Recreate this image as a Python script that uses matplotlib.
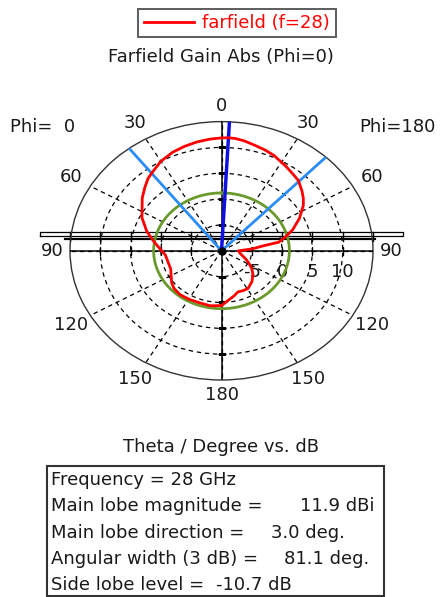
import matplotlib
matplotlib.use("Agg")
import matplotlib.pyplot as plt
import numpy as np
from matplotlib.patches import Rectangle
from matplotlib.lines import Line2D

# DATA
# farfield gain (dBi) vs theta (deg), clockwise from the top, Phi=0 on the left
theta_deg = [-180, -170, -160, -150, -141, -133, -127, -120, -113, -103, -95, -89,
             -81, -73, -64, -52, -46, -41, -37, -30, -23, -17, -11, -5, 0, 3, 6,
             10, 15, 20, 25, 33, 38, 43, 49, 53, 57, 64, 71, 76, 80, 82, 86, 88,
             90, 99, 110, 117, 124, 132, 140, 149, 155, 161, 167, 173, 180]
gain_db = [0.6, 0.8, 0.7, 0.8, 0.9, 0.7, 0.3, -0.4, -0.9, -0.9, -0.7, 0.0,
           1.3, 2.9, 4.6, 6.6, 7.6, 8.5, 9.0, 10.0, 10.7, 11.1, 11.45, 11.7, 11.85, 11.9, 11.85,
           11.6, 11.15, 10.8, 10.4, 9.5, 9.0, 8.6, 7.6, 6.9, 6.1, 4.3, 2.4, 0.8, -0.4, -3.0, -5.0, -6.4,
           -7.2, -6.9, -5.9, -5.0, -4.0, -3.0, -2.2, -1.5, -1.5, -1.6, -1.0, -0.4, 0.6]

main_lobe_mag = 11.9      # dBi
main_lobe_dir = 3.0       # deg
angular_width = 81.1      # deg (3 dB)
side_lobe_level = -10.7   # dB

r_min, r_max = -10, 15
ring_values = [-5, 0, 5, 10]
theta_ticks = list(range(0, 360, 30))

info_labels = ["Frequency = 28 GHz", "Main lobe magnitude =", "Main lobe direction =",
               "Angular width (3 dB) =", "Side lobe level ="]
info_values = ["", "11.9 dBi", "3.0 deg.", "81.1 deg.", "-10.7 dB"]
info_value_x = [0, 0.6787, 0.6124, 0.6425, 0.4887]

plt.rcParams["font.family"] = ["DejaVu Sans"]
plt.rcParams["font.size"] = 13
txt_col = "#1a1a1a"

fig = plt.figure(figsize=(4.42, 5.97), dpi=100)
ax = fig.add_axes([0.1584, 0.3635, 0.6855, 0.4328], projection="polar")
ax.set_aspect("auto")
ax.set_theta_zero_location("N")
ax.set_theta_direction(-1)
ax.set_ylim(r_min, r_max)
ax.set_thetagrids(theta_ticks, labels=[""] * len(theta_ticks))
ax.set_rticks(ring_values)
ax.set_yticklabels([])
ax.grid(True, color="black", linestyle=(0, (3.5, 3)), linewidth=0.9)
ax.spines["polar"].set_color("#333333")
ax.spines["polar"].set_linewidth(1.0)
ax.tick_params(axis="x", length=0, pad=0)

# solid main axes (0/180 and 90/270)
for a in [0, 90, 180, 270]:
    ax.plot(np.radians([a, a]), [r_min, r_max], color="black", lw=1.1, zorder=3)
    mk = "_" if a in (0, 180) else "|"
    ax.plot(np.radians([a] * len(ring_values)), ring_values, ls="none", marker=mk,
            ms=6, mew=1.0, color="black", zorder=3)

# theta labels
for a in theta_ticks:
    lab = str(min(a, 360 - a))
    rl = 18.0 if a % 90 == 0 else 18.6
    ax.text(np.radians(a), rl, lab, ha="center", va="center", color=txt_col,
            clip_on=False)

# radial labels
for rv in ring_values:
    ax.annotate(str(rv), xy=(np.radians(90), rv), xytext=(0, -15),
                textcoords="offset points", ha="center", va="center", color=txt_col)

# side lobe level circle
sll_r = main_lobe_mag + side_lobe_level
circ_t = np.linspace(0, 2 * np.pi, 361)
ax.plot(circ_t, np.full_like(circ_t, sll_r), color="#6a9a2c", lw=2, zorder=4)

# 3 dB beamwidth lines and main lobe direction
for a in [main_lobe_dir - angular_width / 2, main_lobe_dir + angular_width / 2]:
    ax.plot(np.radians([a, a]), [r_min, r_max], color="#2a8cf5", lw=2, zorder=5)
ax.plot(np.radians([main_lobe_dir, main_lobe_dir]), [r_min, r_max], color="#1010e0",
        lw=2.5, zorder=6)

# pattern
red_line, = ax.plot(np.radians(theta_deg), gain_db, color="#ff0000", lw=2, zorder=7,
                    label="farfield (f=28)")
ax.plot([0], [r_min], marker="o", ms=5, color="black", zorder=8)

# horizontal bar artefacts around 90 deg axis (axes coords)
ax.add_line(Line2D([-0.099, 1.099, 1.099, -0.099, -0.099],
                   [0.5584, 0.5584, 0.5739, 0.5739, 0.5584],
                   transform=ax.transAxes, color="black", lw=0.9, clip_on=False))
ax.add_line(Line2D([-0.0165, 1.0066], [0.5457, 0.5457], transform=ax.transAxes,
                   color="black", lw=1.6, clip_on=False))
for rv in ring_values + [r_max]:
    frac = 0.5 * (rv - r_min) / (r_max - r_min)
    for xa in (0.5 - frac, 0.5 + frac):
        ax.add_line(Line2D([xa, xa], [0.536, 0.5739], transform=ax.transAxes,
                           color="black", lw=1.0, clip_on=False))

# legend
leg = fig.legend(handles=[red_line], loc="center",
                 bbox_to_anchor=(237 / 442, 1 - 23 / 597), frameon=True,
                 fancybox=False, handlelength=2.8, handletextpad=0.45,
                 borderpad=0.3, labelcolor="#ff0000", borderaxespad=0)
leg.get_frame().set_edgecolor("#333333")
leg.get_frame().set_linewidth(1.4)

# titles
fig.text(221 / 442, 1 - 62.3 / 597, "Farfield Gain Abs (Phi=0)", ha="center",
         va="baseline", color=txt_col)
fig.text(10 / 442, 1 - 132.3 / 597, "Phi=  0", ha="left", va="baseline",
         color=txt_col)
fig.text(436 / 442, 1 - 132.3 / 597, "Phi=180", ha="right", va="baseline",
         color=txt_col)
fig.text(221 / 442, 1 - 452.3 / 597, "Theta / Degree vs. dB", ha="center",
         va="baseline", color=txt_col)

# info box
fig.patches.append(Rectangle((46.7 / 442, 1 - 595.7 / 597), (384.3 - 46.7) / 442,
                             (595.7 - 466) / 597, transform=fig.transFigure,
                             fill=False, edgecolor="#333333", lw=1.5))
for i, (lab, val, vx) in enumerate(zip(info_labels, info_values, info_value_x)):
    yb = 1 - (485 + i * 26.25) / 597
    fig.text(50.7 / 442, yb, lab, ha="left", va="baseline", color=txt_col)
    if val:
        fig.text(vx, yb, val, ha="left", va="baseline", color=txt_col)

fig.savefig("out.png", dpi=100)
